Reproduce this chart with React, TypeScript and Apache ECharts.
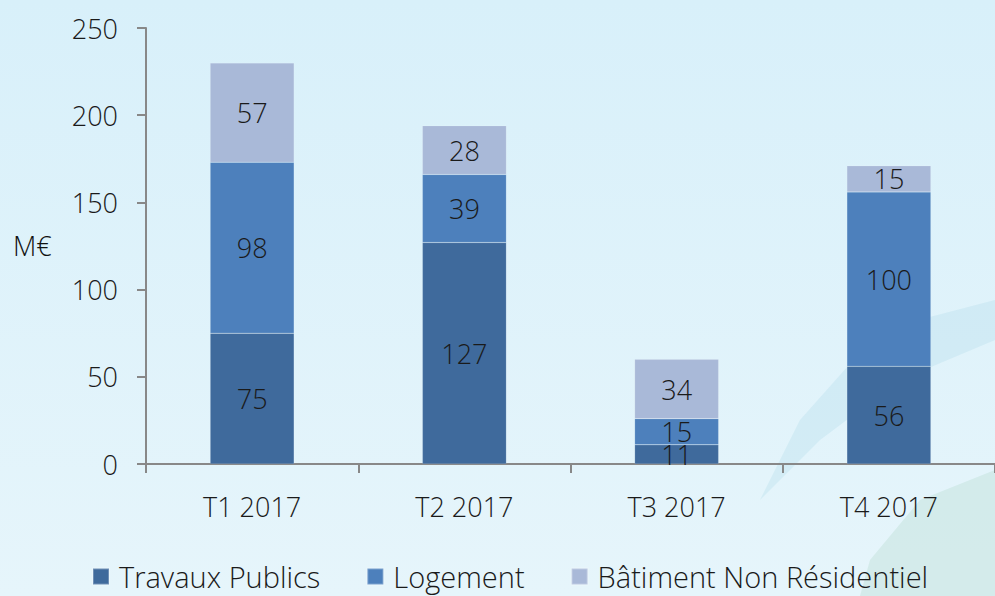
import React, { useEffect, useRef } from "react";
import * as echarts from "echarts";

const categories = ["T1 2017", "T2 2017", "T3 2017", "T4 2017"];
const travauxPublics = [75, 127, 11, 56];
const logement = [98, 39, 15, 100];
const batimentNonResidentiel = [57, 28, 34, 15];
const seriesNames = ["Travaux Publics", "Logement", "Bâtiment Non Résidentiel"];
const yTicks = [0, 50, 100, 150, 200, 250];

const FONT = "'Open Sans', 'Noto Sans', sans-serif";
const FS = 27;

export default function App() {
  const ref = useRef<HTMLDivElement>(null);
  useEffect(() => {
    if (!ref.current) return;
    const chart = echarts.init(ref.current, undefined, { renderer: "svg" });
    const colors = ["#3F6A9C", "#4D80BC", "#A9B9D8"];
    const data = [travauxPublics, logement, batimentNonResidentiel];
    chart.setOption({
      animation: false,
      backgroundColor: {
        type: "linear",
        x: 0, y: 0, x2: 0, y2: 1,
        colorStops: [
          { offset: 0, color: "#D8F0FA" },
          { offset: 1, color: "#E6F5FB" },
        ],
      },
      graphic: [
        {
          type: "polygon",
          shape: { points: [[995, 300], [880, 330], [800, 420], [760, 500], [820, 440], [900, 380], [995, 340]] },
          style: { fill: "rgba(180,220,235,0.35)" },
          silent: true,
          z: -10,
        },
        {
          type: "polygon",
          shape: { points: [[995, 470], [920, 500], [870, 560], [860, 596], [995, 596]] },
          style: { fill: "rgba(190,225,215,0.45)" },
          silent: true,
          z: -10,
        },
        {
          type: "text",
          left: 13,
          top: 232,
          style: { text: "M€", font: `300 ${FS}px ${FONT}`, fill: "#111" },
        },
      ],
      grid: { left: 146, top: 28, width: 852, bottom: 132, containLabel: false },
      legend: {
        top: 557,
        left: 87,
        icon: "rect",
        itemWidth: 16,
        itemHeight: 16,
        itemGap: 46,
        textStyle: { fontFamily: FONT, fontWeight: 300, fontSize: 29, color: "#1a1a1a", padding: [0, 0, 0, 5] },
        data: seriesNames,
      },
      xAxis: {
        type: "category",
        data: categories,
        axisLine: { lineStyle: { color: "#888", width: 2 } },
        axisTick: { show: true, length: 9, lineStyle: { color: "#888", width: 2 } },
        axisLabel: { fontFamily: FONT, fontWeight: 300, fontSize: FS, color: "#1a1a1a", margin: 29 },
      },
      yAxis: {
        type: "value",
        min: yTicks[0],
        max: yTicks[yTicks.length - 1],
        interval: 50,
        axisLine: { show: true, lineStyle: { color: "#888", width: 2 } },
        axisTick: { show: true, length: 9, lineStyle: { color: "#888", width: 2 } },
        splitLine: { show: false },
        axisLabel: { fontFamily: FONT, fontWeight: 300, fontSize: FS, color: "#1a1a1a", margin: 28 },
      },
      series: seriesNames.map((name, i) => ({
        name,
        type: "bar",
        stack: "total",
        barWidth: 84,
        data: data[i],
        itemStyle: { color: colors[i], borderColor: "rgba(255,255,255,0.25)", borderWidth: 0.5 },
        label: {
          show: true,
          position: "inside",
          fontFamily: FONT,
          fontWeight: 300,
          fontSize: FS,
          color: "#1a1a1a",
        },
      })),
    });
    return () => chart.dispose();
  }, []);
  return (
    <div
      ref={ref}
      style={{ position: "fixed", left: 0, top: 0, width: 995, height: 596 }}
    />
  );
}
